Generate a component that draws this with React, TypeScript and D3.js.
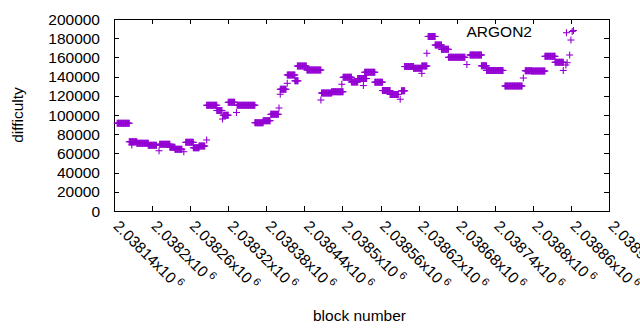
import React, { useEffect, useRef } from 'react';
import * as d3 from 'd3';

const runStart = [
  2038145, 2038164, 2038168, 2038176, 2038194, 2038211, 2038212, 2038228, 2038236, 2038250,
  2038253, 2038265, 2038274, 2038286, 2038286, 2038302, 2038311, 2038312, 2038320, 2038333,
  2038334, 2038362, 2038375, 2038387, 2038400, 2038402, 2038402, 2038413, 2038413, 2038425,
  2038429, 2038444, 2038466, 2038467, 2038483, 2038499, 2038501, 2038514, 2038524, 2038533,
  2038535, 2038551, 2038563, 2038575, 2038591, 2038593, 2038598, 2038612, 2038625, 2038625,
  2038633, 2038635, 2038646, 2038656, 2038667, 2038696, 2038701, 2038719, 2038727, 2038756,
  2038785, 2038788, 2038798, 2038819, 2038835, 2038848, 2038852, 2038854, 2038858, 2038860,
  2038853, 2038862, 2038864,
];
const runEnd = [
  2038164, 2038176, 2038168, 2038194, 2038207, 2038211, 2038228, 2038236, 2038247, 2038250,
  2038265, 2038274, 2038283, 2038286, 2038302, 2038310, 2038311, 2038320, 2038330, 2038333,
  2038362, 2038375, 2038386, 2038399, 2038400, 2038402, 2038411, 2038413, 2038425, 2038430,
  2038443, 2038466, 2038466, 2038483, 2038501, 2038499, 2038514, 2038524, 2038538, 2038533,
  2038551, 2038563, 2038575, 2038588, 2038591, 2038598, 2038612, 2038625, 2038625, 2038633,
  2038633, 2038646, 2038656, 2038667, 2038693, 2038696, 2038719, 2038727, 2038753, 2038783,
  2038785, 2038798, 2038819, 2038835, 2038848, 2038848, 2038852, 2038854, 2038858, 2038860,
  2038853, 2038862, 2038864,
];
const runDifficulty = [
  91400, 72200, 68800, 70500, 68400, 62800, 69500, 66400, 64300, 61800,
  71500, 65900, 67700, 74000, 110100, 104700, 95800, 99800, 113200, 102600,
  110200, 92000, 94100, 100700, 107300, 121600, 126800, 133000, 141700, 135600,
  151000, 146900, 115600, 122900, 124300, 132000, 139300, 134400, 138000, 130700,
  144500, 134200, 125500, 121400, 116400, 125200, 150500, 148600, 143400, 151000,
  164300, 181800, 172900, 168400, 160100, 152600, 162500, 151200, 146400, 130200,
  138500, 146100, 145800, 161100, 154900, 146400, 152100, 154500, 162500, 178100,
  185700, 187000, 188000,
];

const xTickValues = [
  2038140, 2038200, 2038260, 2038320, 2038380, 2038440, 2038500,
  2038560, 2038620, 2038680, 2038740, 2038800, 2038860, 2038920,
];
const xTickLabels = [
  '2.03814', '2.0382', '2.03826', '2.03832', '2.03838', '2.03844', '2.0385',
  '2.03856', '2.03862', '2.03868', '2.03874', '2.0388', '2.03886', '2.03892',
];
const yTickValues = [0, 20000, 40000, 60000, 80000, 100000, 120000, 140000, 160000, 180000, 200000];

const seriesName = 'ARGON2';
const color = '#9400d3';

const App: React.FC = () => {
  const svgRef = useRef<SVGSVGElement>(null);

  useEffect(() => {
    if (!svgRef.current) return;
    const width = 640;
    const height = 330;
    const margin = { top: 19, right: 31, bottom: 119, left: 114 };
    const font = '"Liberation Sans", Arial, sans-serif';

    const svg = d3.select(svgRef.current);
    svg.selectAll('*').remove();

    const x = d3.scaleLinear()
      .domain([xTickValues[0], xTickValues[xTickValues.length - 1]])
      .range([margin.left, width - margin.right]);
    const y = d3.scaleLinear()
      .domain([0, 200000])
      .range([height - margin.bottom, margin.top]);

    // expand runs into one point per block
    const points: { block: number; difficulty: number }[] = [];
    runStart.forEach((s, i) => {
      d3.range(s, runEnd[i] + 1).forEach(b => points.push({ block: b, difficulty: runDifficulty[i] }));
    });

    const x0 = x.range()[0], x1 = x.range()[1];
    const y0 = y.range()[0], y1 = y.range()[1];
    const tick = 5;

    const axes = svg.append('g').attr('stroke', '#000').attr('stroke-width', 1).attr('shape-rendering', 'crispEdges');

    // y ticks + mirror
    yTickValues.forEach(v => {
      const yy = Math.round(y(v)) + 0.5;
      axes.append('line').attr('x1', x0).attr('x2', x0 + tick).attr('y1', yy).attr('y2', yy);
      axes.append('line').attr('x1', x1).attr('x2', x1 - tick).attr('y1', yy).attr('y2', yy);
      svg.append('text')
        .attr('x', x0 - 14)
        .attr('y', y(v) + 5.5)
        .attr('text-anchor', 'end')
        .style('font-family', font)
        .style('font-size', '15.5px')
        .text(v);
    });

    // x ticks + mirror, rotated labels
    xTickValues.forEach((v, i) => {
      const xx = Math.round(x(v)) + 0.5;
      axes.append('line').attr('x1', xx).attr('x2', xx).attr('y1', y0).attr('y2', y0 - tick);
      axes.append('line').attr('x1', xx).attr('x2', xx).attr('y1', y1).attr('y2', y1 + tick);
      const t = svg.append('text')
        .attr('transform', `translate(${x(v) - 1.5},227) rotate(45)`)
        .style('font-family', font)
        .style('font-size', '15.5px');
      t.append('tspan').text(`${xTickLabels[i]}x10`);
      t.append('tspan').attr('dx', 3).attr('dy', -6).style('font-size', '11px').text('6');
    });

    axes.append('rect')
      .attr('x', Math.round(x0) + 0.5)
      .attr('y', Math.round(y1) + 0.5)
      .attr('width', Math.round(x1) - Math.round(x0))
      .attr('height', Math.round(y0) - Math.round(y1))
      .attr('fill', 'none');

    // plus markers
    const r = 3.5;
    const marks = svg.append('g').attr('stroke', color).attr('stroke-width', 1.1);
    points.forEach(p => {
      const px = x(p.block);
      const py = y(p.difficulty);
      marks.append('line').attr('x1', px - r).attr('x2', px + r).attr('y1', py).attr('y2', py);
      marks.append('line').attr('x1', px).attr('x2', px).attr('y1', py - r).attr('y2', py + r);
    });

    svg.append('text')
      .attr('x', 532)
      .attr('y', 37)
      .attr('text-anchor', 'end')
      .style('font-family', font)
      .style('font-size', '15.5px')
      .text(seriesName);

    svg.append('text')
      .attr('transform', `translate(23,${(y0 + y1) / 2}) rotate(-90)`)
      .attr('text-anchor', 'middle')
      .style('font-family', font)
      .style('font-size', '15.5px')
      .text('difficulty');

    svg.append('text')
      .attr('x', (x0 + x1) / 2 - 2)
      .attr('y', 321)
      .attr('text-anchor', 'middle')
      .style('font-family', font)
      .style('font-size', '15.5px')
      .text('block number');
  }, []);

  return (
    <svg
      ref={svgRef}
      width={640}
      height={330}
      style={{ position: 'absolute', left: 0, top: 0, background: '#fff' }}
    />
  );
};

export default App;
